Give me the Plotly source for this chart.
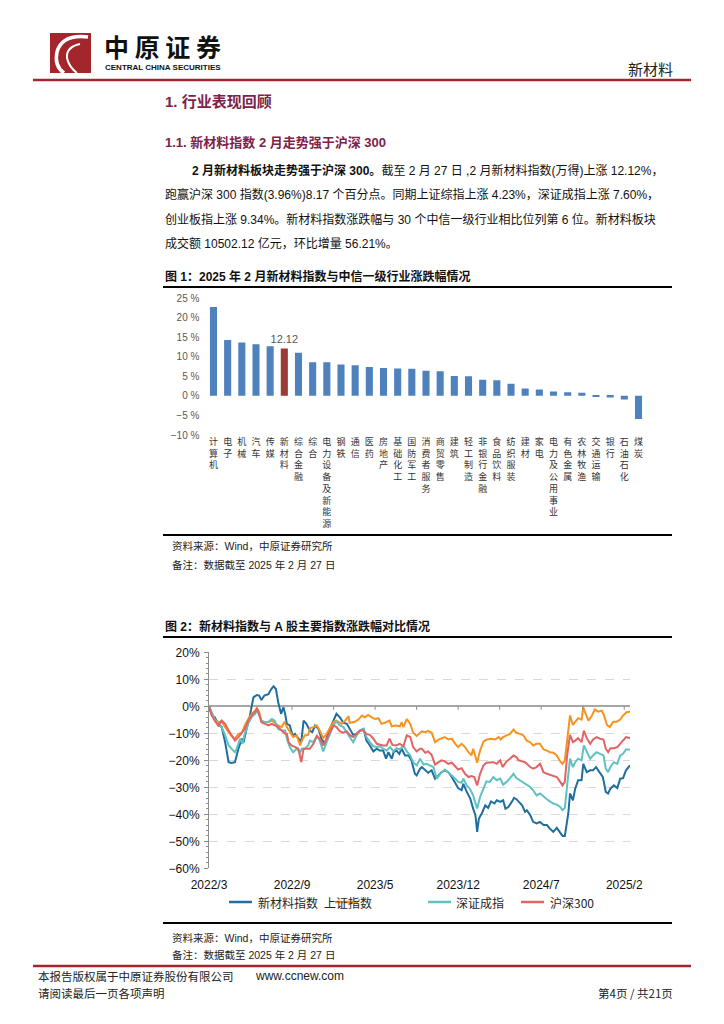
import plotly.graph_objects as go

W, H = 724, 1024
FONT = "Liberation Sans, Arial, Noto Sans CJK SC, sans-serif"
CJK = "Noto Sans CJK SC, Liberation Sans, sans-serif"
HEAD = "#7D2248"
DARKRED = "#A3262D"

# ---------------- Chart 1 data ----------------
industries = ["计算机", "电子", "机械", "汽车", "传媒", "新材料", "综合金融", "综合",
              "电力设备及新能源", "钢铁", "通信", "医药", "房地产", "基础化工", "国防军工",
              "消费者服务", "商贸零售", "建筑", "轻工制造", "非银行金融", "食品饮料",
              "纺织服装", "建材", "家电", "电力及公用事业", "有色金属", "农林牧渔",
              "交通运输", "银行", "石油石化", "煤炭"]
changes = [22.7, 14.3, 13.6, 13.2, 12.7, 12.12, 11.0, 8.6, 8.6, 8.0, 7.8, 7.4, 7.1, 7.0,
           6.9, 6.4, 6.3, 5.1, 5.0, 4.1, 4.0, 3.1, 1.9, 1.6, 1.1, 0.9, 0.8, -0.3, -0.4,
           -0.9, -5.9]
highlight = "新材料"
bar_blue = "#4F81BD"
bar_red = "#9C3A37"

# ---------------- Chart 2 data (trading-day index, cumulative % change) ----------------
series_names = ["新材料指数", "上证指数", "深证成指", "沪深300"]
series_colors = ["#1F6E9E", "#F7931E", "#5EC2C2", "#E36464"]

xm_new = [0, 5, 10, 16, 22, 28, 34, 39, 45, 51, 57, 60, 65, 71, 77, 83, 87, 91, 96, 103,
          108, 112, 116, 120, 125, 129, 132, 135, 140, 145, 149, 155, 160, 164, 169, 175,
          179, 184, 190, 195, 201, 207, 213, 218, 221, 227, 233, 239, 244, 250, 256, 262,
          268, 273, 279, 285, 291, 296, 302, 307, 311, 317, 320, 325, 330, 334, 340, 346,
          351, 357, 360, 366, 369, 375, 380, 386, 392, 398, 403, 409, 415, 421, 427, 432,
          438, 441, 447, 453, 458, 462, 465, 468, 473, 479, 484, 489, 495, 499, 505, 510,
          514, 519, 525, 529, 533, 539, 543, 548, 551, 557, 562, 568, 574, 580, 586, 591,
          597, 603, 609, 613, 617, 623, 626, 631, 635, 640, 646, 649, 655, 661, 666, 671,
          677, 683, 688, 692, 696, 702, 708, 713, 718, 723, 730]
ym_new = [0, -3.4, -4, -6.5, -7.7, -13.3, -20.7, -21, -20.7, -15.7, -12, -13.3, -8.4, -3.4,
          3.3, 4.2, 4, 2.3, 4, 4.5, 6.4, 7.4, 6.4, 1.5, -2.8, -0.4, -2.8, -6.5, -7.1, -10.8,
          -10.2, -12, -13.3, -5.3, -6.5, -9, -9.6, -7.1, -8.4, -12, -13.9, -9.6, -6.5, -4.1,
          -2.8, -4.1, -6.1, -6.5, -8.4, -10.6, -10.2, -9, -8.4, -12.7, -14.5, -16.7, -15.7,
          -16.4, -16.4, -19.4, -17, -19.4, -17, -16.4, -17.6, -15.7, -18.2, -18.2, -20, -25,
          -25.6, -23.1, -22.5, -23.7, -24.6, -23.7, -26.8, -25.6, -24.4, -23.7, -24.4, -26.2,
          -28.3, -30.3, -31.1, -28.7, -31.7, -34.2, -37.9, -40.3, -46.5, -41.6, -39.7, -36.7,
          -37.6, -35.2, -36, -34.8, -35.4, -34.8, -37.9, -37.3, -35.4, -33.9, -34.4, -36,
          -36.7, -39.1, -38.5, -40.3, -42.8, -43.4, -42.8, -44, -44, -45.3, -46.5, -45, -47.1,
          -48, -48, -39.7, -32.3, -34.8, -30.5, -27.4, -27.4, -21.3, -24.4, -23.7, -23.7,
          -22.5, -24.4, -26.2, -31.7, -32.3, -30.5, -29.3, -30.3, -26.8, -26.6, -23.7, -21.9]

xm_sh = [0, 5, 10, 16, 22, 28, 34, 39, 45, 51, 57, 62, 68, 74, 80, 83, 87, 91, 97, 103, 109,
         114, 120, 126, 131, 135, 140, 146, 152, 158, 161, 166, 172, 175, 181, 187, 192, 198,
         204, 210, 216, 221, 230, 236, 242, 244, 253, 259, 265, 270, 276, 282, 288, 294, 299,
         305, 313, 317, 324, 331, 334, 337, 343, 349, 354, 360, 366, 369, 375, 380, 386, 392,
         398, 403, 409, 415, 421, 427, 432, 438, 444, 450, 455, 458, 462, 465, 470, 476, 481,
         489, 496, 502, 506, 510, 516, 522, 528, 533, 539, 545, 551, 557, 562, 568, 574, 580,
         586, 591, 597, 603, 609, 613, 617, 620, 623, 626, 631, 635, 640, 646, 649, 652, 658,
         664, 669, 675, 681, 685, 690, 695, 701, 707, 713, 718, 724, 730]
ym_sh = [0, -2.8, -4.9, -5.9, -5.7, -7.7, -9.6, -11, -12, -10.2, -9.8, -7.1, -4.7, -2.8, -1.6,
         -0.7, -2.2, -5.7, -5.9, -5.9, -5.3, -6.1, -7.1, -7.7, -5.7, -7.7, -9.6, -11.4, -10.8,
         -14.5, -12.7, -10.8, -10.6, -8.1, -7.7, -7.1, -9, -11.8, -10.2, -7.7, -5.7, -5.3,
         -6.5, -5.3, -3.7, -6.1, -5.7, -4.9, -3.4, -4.1, -3.2, -4.1, -4.7, -4.4, -6.5, -6.1,
         -5.3, -7.4, -7.1, -7.4, -5.9, -7.7, -4.7, -6.5, -9.8, -11, -9.6, -9.3, -9.6, -9.1,
         -9.8, -13.3, -12.3, -11.8, -11.4, -12.3, -12, -13.9, -15.1, -13.9, -15.1, -17, -18.2,
         -15.7, -18.2, -20.9, -16.4, -13, -12.4, -12, -12.3, -11.4, -12.3, -11.4, -10.8,
         -10.2, -8.6, -9.8, -10.2, -10.8, -12.7, -13.3, -14.5, -13.9, -13.9, -16, -16.4, -17,
         -17.2, -18.2, -20.4, -21.3, -20, -14.5, -8.4, -3.4, -6.9, -5.7, -4.4, -4.9, -0.4,
         -2.2, -5.3, -3.4, -1.2, -2, -1.6, -3.4, -6.9, -7.7, -5.7, -5.7, -4.9, -3.4, -2.2, -2]

xm_sz = [0, 5, 10, 16, 22, 28, 34, 39, 45, 48, 54, 58, 62, 68, 74, 80, 83, 86, 91, 97, 103,
         109, 114, 120, 126, 132, 135, 140, 146, 152, 158, 161, 166, 172, 175, 181, 187, 192,
         198, 204, 210, 216, 221, 227, 233, 239, 244, 250, 256, 262, 268, 273, 279, 285, 291,
         296, 302, 308, 314, 320, 325, 331, 337, 343, 349, 354, 360, 366, 372, 377, 383, 389,
         395, 401, 409, 415, 421, 427, 432, 438, 441, 447, 453, 458, 462, 465, 470, 476, 481,
         487, 493, 499, 505, 510, 516, 522, 528, 533, 539, 545, 551, 557, 562, 568, 574, 580,
         586, 591, 597, 603, 609, 613, 617, 621, 626, 631, 635, 640, 646, 650, 655, 661, 666,
         672, 678, 684, 688, 692, 696, 702, 708, 713, 718, 723, 730]
ym_sz = [0, -2.8, -4.9, -7.1, -7.7, -10.8, -14.5, -15.7, -17, -15.7, -12, -13.9, -10.2, -6.5,
         -4, -2.8, -1.6, -2.8, -5.3, -5.9, -5.7, -4.7, -5.3, -8.4, -9, -9, -12, -15.1, -17,
         -15.7, -17, -15.7, -15.7, -14.5, -12.7, -13.3, -11, -12.7, -16.7, -13.3, -10.2, -6.9,
         -5.7, -7.1, -7.7, -9.6, -11.4, -13.3, -10.8, -9, -8.4, -11.4, -13.3, -14.8, -15.1,
         -14.8, -15.7, -16.4, -15.1, -16.7, -15.5, -16, -14.5, -16.7, -18.2, -20.7, -21.9,
         -19.4, -21.6, -21.3, -21.9, -22.5, -26.8, -25, -23.4, -24.4, -25.6, -26.8, -28,
         -28.3, -26.8, -29.3, -30.8, -33, -35.4, -37.9, -33.6, -30.5, -27.8, -28, -26.2,
         -27.4, -26.8, -29, -28, -26.6, -25, -26.6, -27.4, -28.3, -29.3, -29.9, -31.1, -33,
         -32.3, -33.2, -34.4, -35.2, -36, -36.4, -37.3, -38.5, -37.6, -29.3, -19.4, -22.5,
         -20.7, -19.4, -20, -14.5, -17, -19.4, -18.2, -17, -17.6, -18.2, -23.1, -24.4, -22.5,
         -20.7, -21.3, -18.2, -17.6, -16, -16]

xm_hs = [0, 5, 10, 16, 22, 28, 34, 39, 45, 51, 57, 62, 68, 74, 80, 83, 86, 91, 97, 103, 109,
         114, 120, 126, 132, 135, 138, 143, 149, 155, 160, 164, 169, 175, 181, 187, 192, 198,
         204, 210, 216, 221, 227, 233, 239, 244, 250, 256, 262, 268, 273, 279, 285, 291, 296,
         302, 308, 313, 318, 324, 331, 337, 343, 349, 354, 360, 366, 369, 375, 380, 386, 392,
         398, 403, 409, 415, 421, 427, 432, 438, 444, 450, 455, 460, 465, 470, 476, 481, 487,
         493, 499, 505, 509, 516, 522, 528, 533, 537, 543, 548, 551, 557, 562, 568, 574, 580,
         586, 591, 597, 603, 609, 613, 617, 621, 626, 631, 635, 640, 646, 650, 655, 661, 666,
         672, 678, 684, 688, 692, 696, 702, 708, 713, 718, 723, 730]
ym_hs = [0, -3.4, -5.3, -7.1, -5.3, -6.5, -9, -10.8, -12.7, -11.4, -9.6, -8.4, -5.3, -3.4, -2,
         -1, -2.2, -5.9, -6.5, -7.1, -6.5, -7.1, -7.7, -9, -10.2, -10.2, -13.3, -14.5, -15.1,
         -15.7, -20.7, -15.7, -15.7, -15.7, -13.9, -11, -12, -14.5, -12, -9.3, -7.1, -7.7,
         -9.3, -9.8, -9.3, -10.6, -11.4, -10.2, -9, -9, -10.2, -10.6, -12, -13.9, -14.3,
         -14.5, -14.5, -12, -14.3, -14.5, -13.9, -14.8, -10.8, -11.4, -15.1, -16.7, -15.7,
         -15.7, -17.2, -16.7, -18, -21.6, -20.7, -20, -20.4, -21.3, -20.9, -22.1, -23.4,
         -22.9, -25, -26.2, -25.8, -26.2, -29.3, -25, -21.9, -20.9, -20.9, -20.7, -21.3, -20,
         -22.5, -20.4, -19.4, -18.2, -18.8, -20, -20.4, -20.7, -21.3, -22.5, -23.1, -22.5,
         -21.3, -24.4, -25, -25.3, -25.6, -26.2, -28, -29.3, -28, -18.2, -10.6, -13.3, -12.7,
         -11.8, -13.3, -9, -11.8, -13.9, -12.3, -11.4, -12, -12.3, -15.7, -17, -15.5, -15.5,
         -15.1, -13.9, -12.7, -11.4, -11.8]

series_x = [xm_new, xm_sh, xm_sz, xm_hs]
series_y = [ym_new, ym_sh, ym_sz, ym_hs]

x_ticks = [0, 72, 144, 216, 288, 360, 432, 504, 576, 648, 720]
x_labels = ["2022/3", "", "2022/9", "", "2023/5", "", "2023/12", "", "2024/7", "", "2025/2"]

# ---------------- helpers for page layout (pixel -> paper) ----------------
def px(x):
    return x / W


def py(y):
    return 1 - y / H


annotations = []
shapes = []


def text(x, y, s, size=12, color="#000000", anchor="left", family=FONT):
    annotations.append(dict(x=px(x), y=py(y), xref="paper", yref="paper", text=s,
                            showarrow=False, xanchor=anchor, yanchor="middle",
                            font=dict(size=size, color=color, family=family)))


def rule(x0, x1, y, color="#000000", width=2):
    shapes.append(dict(type="line", xref="paper", yref="paper", x0=px(x0), x1=px(x1),
                       y0=py(y), y1=py(y), line=dict(color=color, width=width)))


fig = go.Figure()

# ---------------- Chart 1: bars ----------------
bar_colors = [bar_red if c == highlight else bar_blue for c in industries]
bar_text = [f"{v:.2f}" if c == highlight else "" for c, v in zip(industries, changes)]
fig.add_trace(go.Bar(x=industries, y=changes, marker=dict(color=bar_colors, line=dict(width=0)),
                     text=bar_text, textposition="outside", cliponaxis=False,
                     constraintext="none",
                     textfont=dict(size=11, color="#595959", family=FONT),
                     xaxis="x", yaxis="y", showlegend=False))

# ---------------- Chart 2: lines ----------------
for name, color, xs, ys in zip(series_names, series_colors, series_x, series_y):
    fig.add_trace(go.Scatter(x=xs, y=ys, mode="lines", name=name,
                             line=dict(color=color, width=2), xaxis="x2", yaxis="y2",
                             showlegend=False))

# small tick marks on the zero line of chart 2
for t in x_ticks:
    shapes.append(dict(type="line", xref="x2", yref="y2", x0=t, x1=t, y0=0, y1=-1.3,
                       line=dict(color="#8C8C8C", width=1)))

# ---------------- page header ----------------
shapes.append(dict(type="rect", xref="paper", yref="paper", x0=px(50), x1=px(91),
                   y0=py(73), y1=py(33), fillcolor=DARKRED, line=dict(width=0)))


def path(points):
    (x0, y0), rest = points[0], points[1:]
    s = f"M {px(x0):.5f},{py(y0):.5f}"
    for i in range(0, len(rest), 2):
        (cx, cy), (ex, ey) = rest[i], rest[i + 1]
        s += f" Q {px(cx):.5f},{py(cy):.5f} {px(ex):.5f},{py(ey):.5f}"
    return s


shapes.append(dict(type="path", xref="paper", yref="paper",
                   path=path([(88, 37), (62, 34), (57, 52), (54, 66), (64, 73)]),
                   line=dict(color="white", width=3.5)))
shapes.append(dict(type="path", xref="paper", yref="paper",
                   path=path([(80, 44), (66, 47), (67, 58), (69, 67), (77, 73)]),
                   line=dict(color="white", width=2)))

text(102, 46, "<b>中 原 证 券</b>", size=25, color="#111111", family=CJK)
text(103, 67, "<b>CENTRAL CHINA SECURITIES</b>", size=8, color="#111111",
     family="Liberation Sans Narrow, Liberation Sans, Arial")
text(675, 68, "新材料", size=15, color="#222222", anchor="right", family=CJK)
rule(33, 691, 80, color=DARKRED, width=2.5)

# ---------------- headings & paragraph ----------------
text(163, 101, "<b>1. 行业表现回顾</b>", size=15, color=HEAD)
text(163, 142, "<b>1.1. 新材料指数 2 月走势强于沪深 300</b>", size=13, color=HEAD)
text(190, 170, "<b>2 月新材料板块走势强于沪深 300。</b>截至 2 月 27 日 ,2 月新材料指数(万得)上涨 12.12%，",
     size=12, color="#111111")
text(163, 194, "跑赢沪深 300 指数(3.96%)8.17 个百分点。同期上证综指上涨 4.23%，深证成指上涨 7.60%，",
     size=12, color="#111111")
text(163, 219, "创业板指上涨 9.34%。新材料指数涨跌幅与 30 个中信一级行业相比位列第 6 位。新材料板块",
     size=12, color="#111111")
text(163, 243, "成交额 10502.12 亿元，环比增量 56.21%。", size=12, color="#111111")

# ---------------- figure 1 frame ----------------
text(163, 276, "<b>图 1：2025 年 2 月新材料指数与中信一级行业涨跌幅情况</b>", size=12, color="#111111")
rule(163, 672, 287, width=2)
rule(163, 672, 535, width=2)
text(170, 546, "资料来源：Wind，中原证券研究所", size=10.5, color="#222222")
text(170, 565, "备注：数据截至 2025 年 2 月 27 日", size=10.5, color="#222222")

# ---------------- figure 2 frame ----------------
text(163, 626, "<b>图 2：新材料指数与 A 股主要指数涨跌幅对比情况</b>", size=12, color="#111111")
rule(163, 672, 637, width=2)
rule(163, 672, 923, width=2)
text(170, 938, "资料来源：Wind，中原证券研究所", size=10.5, color="#222222")
text(170, 955, "备注：数据截至 2025 年 2 月 27 日", size=10.5, color="#222222")

# manual legend for chart 2 (reproduces the overlapping original layout)
legend_spots = [(229, 256), (335, 322), (428, 454), (521, 548)]
for (lx, tx), name, color in zip(legend_spots, series_names, series_colors):
    text(tx, 902, name, size=12, color="#262626", family=CJK)
for (lx, tx), color in zip(legend_spots, series_colors):
    shapes.append(dict(type="line", xref="paper", yref="paper", x0=px(lx), x1=px(lx + 23),
                       y0=py(902), y1=py(902), line=dict(color=color, width=2.5)))

# ---------------- footer ----------------
rule(33, 691, 966, color=DARKRED, width=2.5)
text(36, 976, "本报告版权属于中原证券股份有限公司", size=11.5, color="#222222", family=CJK)
text(253, 976, "www.ccnew.com", size=12, color="#222222")
text(36, 993, "请阅读最后一页各项声明", size=11.5, color="#222222", family=CJK)
text(675, 993, "第4页 / 共21页", size=11.5, color="#222222", anchor="right", family=CJK)

fig.update_layout(
    width=W, height=H, margin=dict(l=0, r=0, t=0, b=0, pad=0),
    paper_bgcolor="white", plot_bgcolor="white",
    font=dict(family=FONT, color="#222222"),
    bargap=0.5, showlegend=False,
    xaxis=dict(domain=[px(206.4), px(645.6)], type="category",
               tickmode="array", tickvals=industries,
               ticktext=["<br>".join(list(n)) for n in industries],
               tickangle=0, tickfont=dict(size=9, color="#333333", family=CJK),
               showgrid=False, showline=False, ticks="", zeroline=False,
               anchor="y", automargin=False),
    yaxis=dict(domain=[py(435), py(298)], range=[-10, 25], dtick=5, tick0=0,
               ticksuffix=" %", tickfont=dict(size=10, color="#595959"),
               showgrid=False, zeroline=False, showline=False, ticks="",
               ticklabelstandoff=6, anchor="x", automargin=False),
    xaxis2=dict(domain=[px(209), px(630)], range=[0, 730], anchor="y2",
                tickmode="array", tickvals=x_ticks, ticktext=x_labels,
                tickfont=dict(size=12, color="#111111"), ticks="",
                showgrid=False, showline=False, zeroline=False, ticklabelstandoff=8,
                automargin=False),
    yaxis2=dict(domain=[py(868.3), py(652.3)], range=[-60, 20], dtick=10, tick0=0,
                ticksuffix="%", tickfont=dict(size=12, color="#111111"),
                showgrid=True, gridcolor="#D9D9D9", griddash="dash", gridwidth=1,
                zeroline=True, zerolinecolor="#A6A6A6", zerolinewidth=1.5,
                showline=True, linecolor="#8C8C8C", linewidth=1,
                ticks="outside", ticklen=4, tickcolor="#8C8C8C",
                minor=dict(dtick=2, ticks="outside", ticklen=2, tickcolor="#8C8C8C",
                           showgrid=False),
                ticklabelstandoff=2, anchor="x2", automargin=False),
    annotations=annotations, shapes=shapes,
)

# remove the browser's default page margin so the page lines up with the window
fig.write_html("out.html", config={"displayModeBar": False},
               post_script="document.body.style.margin='0';document.body.style.overflow='hidden';")
